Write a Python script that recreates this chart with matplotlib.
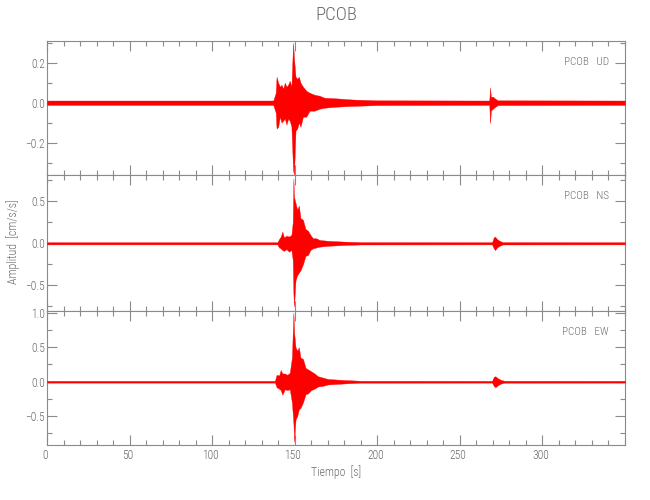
import matplotlib
matplotlib.use("Agg")
import matplotlib.pyplot as plt
import matplotlib.font_manager as fm
import matplotlib.transforms as mtransforms
from matplotlib.ticker import MultipleLocator, FixedLocator, FuncFormatter

# ---------------- data (envelope of the traces) ----------------
station = "PCOB"
components = ["UD", "NS", "EW"]
x_ticks = [0, 50, 100, 150, 200, 250, 300]

ud_t = [0, 137, 138.5, 139, 140, 141, 142, 143, 144, 145, 146, 147, 148, 149, 149.6,
        150.5, 151.5, 152.5, 153.5, 155, 157, 159, 162, 165, 168, 175, 185, 200,
        267.8, 268.3, 268.8, 270, 271.5, 273, 350]
ud_hi = [0.011, 0.011, 0.05, 0.13, 0.10, 0.08, 0.09, 0.07, 0.10, 0.08, 0.09, 0.11, 0.08, 0.30, 0.22,
         0.13, 0.12, 0.13, 0.10, 0.08, 0.06, 0.05, 0.04, 0.035, 0.025, 0.022, 0.016, 0.012,
         0.011, 0.077, 0.03, 0.03, 0.02, 0.012, 0.011]
ud_lo = [-0.011, -0.011, -0.05, -0.13, -0.12, -0.07, -0.10, -0.09, -0.08, -0.11, -0.08, -0.09, -0.12, -0.34, -0.36,
         -0.14, -0.13, -0.10, -0.12, -0.07, -0.07, -0.04, -0.04, -0.03, -0.025, -0.02, -0.016, -0.012,
         -0.011, -0.103, -0.04, -0.03, -0.02, -0.012, -0.011]

ns_t = [0, 139.5, 140.5, 141.5, 142.5, 143.5, 145, 146.5, 148, 148.8, 149.2, 149.6,
        150.5, 151.5, 152.5, 153.5, 155, 156.5, 158, 159.5, 161, 163, 165, 170, 180, 190,
        269.5, 270.5, 271.3, 272.5, 274, 276, 350]
ns_hi = [0.013, 0.013, 0.05, 0.08, 0.14, 0.07, 0.09, 0.08, 0.10, 0.25, 0.77, 0.55,
         0.48, 0.40, 0.45, 0.30, 0.28, 0.17, 0.15, 0.10, 0.06, 0.06, 0.04, 0.03, 0.02, 0.014,
         0.013, 0.07, 0.08, 0.05, 0.03, 0.014, 0.013]
ns_lo = [-0.013, -0.013, -0.05, -0.06, -0.08, -0.09, -0.07, -0.10, -0.08, -0.20, -0.60, -0.75,
         -0.44, -0.38, -0.35, -0.32, -0.25, -0.15, -0.14, -0.08, -0.06, -0.05, -0.04, -0.03, -0.02, -0.014,
         -0.013, -0.06, -0.08, -0.05, -0.03, -0.014, -0.013]

ew_t = [0, 138, 139, 140.5, 141.5, 142.5, 144, 145.5, 147, 148.3, 149.2, 149.7,
        150.5, 151.5, 152.5, 153.5, 155, 156.6, 158, 160, 162, 164, 167, 170, 180, 190,
        269.5, 270.5, 271.5, 273, 275, 277, 350]
ew_hi = [0.013, 0.013, 0.10, 0.09, 0.17, 0.12, 0.12, 0.10, 0.13, 0.35, 1.00, 0.70,
         0.50, 0.45, 0.50, 0.35, 0.33, 0.20, 0.18, 0.15, 0.12, 0.08, 0.06, 0.04, 0.025, 0.014,
         0.013, 0.07, 0.08, 0.05, 0.025, 0.014, 0.013]
ew_lo = [-0.013, -0.013, -0.08, -0.10, -0.12, -0.19, -0.11, -0.12, -0.11, -0.30, -0.60, -0.87,
         -0.55, -0.50, -0.40, -0.38, -0.30, -0.18, -0.17, -0.12, -0.10, -0.07, -0.06, -0.04, -0.025, -0.014,
         -0.013, -0.06, -0.08, -0.05, -0.025, -0.014, -0.013]

# ---------------- font selection ----------------
def _w(v):
    m = {"light": 300, "normal": 400, "regular": 400, "book": 400, "medium": 500}
    if isinstance(v, str):
        return m.get(v.lower(), 400)
    return int(v)

def pick_font():
    ttf = fm.fontManager.ttflist
    for f in ttf:
        if f.name == "Roboto Condensed" and f.style == "normal" and _w(f.weight) == 300:
            return f.fname
    for f in ttf:
        if f.name == "Roboto Condensed" and f.style == "normal" and _w(f.weight) == 400:
            return f.fname
    for f in ttf:
        if f.name == "Liberation Sans Narrow" and f.style == "normal" and _w(f.weight) == 400:
            return f.fname
    for f in ttf:
        if f.name == "DejaVu Sans" and f.stretch == "condensed" and f.style == "normal" and _w(f.weight) == 400:
            return f.fname
    return None

_fname = pick_font()

def fp(size):
    if _fname:
        return fm.FontProperties(fname=_fname, size=size)
    return fm.FontProperties(family="DejaVu Sans", size=size)

AX_COL = "#8a8a8a"
TXT_COL = "#6c6c6c"
RED = "#ff0000"

fig = plt.figure(figsize=(6.5, 5.0), dpi=100)
W, H = 650.0, 500.0
left, right = 47 / W, 625 / W
bounds = [(41, 175), (175, 311), (311, 445)]

traces = [(ud_t, ud_hi, ud_lo), (ns_t, ns_hi, ns_lo), (ew_t, ew_hi, ew_lo)]
ylims = [(-0.362, 0.309), (-0.806, 0.813), (-0.917, 1.025)]
ymajor = [0.2, 0.5, 0.5]
yminor = [0.1, 0.25, 0.25]

def yfmt(v, pos):
    s = f"{v:.1f}"
    if s.startswith("-"):
        s = "\u2212" + s[1:]
    return s

axes = []
for i, ((top, bot), (t, hi, lo), comp) in enumerate(zip(bounds, traces, components)):
    ax = fig.add_axes([left, 1 - bot / H, right - left, (bot - top) / H])
    ax.fill_between(t, lo, hi, color=RED, linewidth=0.25, edgecolor=RED, clip_on=False, zorder=3)
    ax.set_xlim(0, 350)
    ax.set_ylim(*ylims[i])
    ax.xaxis.set_major_locator(FixedLocator(x_ticks))
    ax.xaxis.set_minor_locator(MultipleLocator(10))
    ax.yaxis.set_major_locator(MultipleLocator(ymajor[i]))
    ax.yaxis.set_minor_locator(MultipleLocator(yminor[i]))
    ax.tick_params(which="both", direction="in", top=True, right=True, colors=AX_COL,
                   labelcolor=TXT_COL, width=0.8)
    ax.tick_params(which="major", length=7.2)
    ax.tick_params(which="minor", length=3.6)
    ax.tick_params(axis="y", which="major", pad=1.5)
    ax.tick_params(axis="x", which="major", pad=3)
    for sp in ax.spines.values():
        sp.set_color(AX_COL)
        sp.set_linewidth(0.8)
    if i < 2:
        ax.tick_params(axis="x", labelbottom=False)
    ax.yaxis.set_major_formatter(FuncFormatter(yfmt))
    fig.canvas.draw()
    for lbl in ax.get_yticklabels() + ax.get_xticklabels():
        lbl.set_fontproperties(fp(8.3))
    ax.annotate(f"{station}   {comp}", xy=(1, 1), xycoords="axes fraction",
                xytext=(-11.5, -15.0), textcoords="offset points",
                ha="right", va="center", color=TXT_COL, fontproperties=fp(8.0))
    axes.append(ax)

# shift bottom x tick labels slightly left (as in reference)
offset = mtransforms.ScaledTranslation(-2 / 100, 0, fig.dpi_scale_trans)
for lbl in axes[2].get_xticklabels():
    lbl.set_transform(lbl.get_transform() + offset)

fig.text(336 / W, 1 - 15 / H, station, ha="center", va="center", color=TXT_COL, fontproperties=fp(13.5))
fig.text(336 / W, 1 - 472 / H, "Tiempo  [s]", ha="center", va="center", color=TXT_COL, fontproperties=fp(8.5))
fig.text(13 / W, 1 - 242 / H, "Amplitud  [cm/s/s]", ha="center", va="center", rotation=90,
         color=TXT_COL, fontproperties=fp(8.5))

fig.savefig("out.png", dpi=100)
